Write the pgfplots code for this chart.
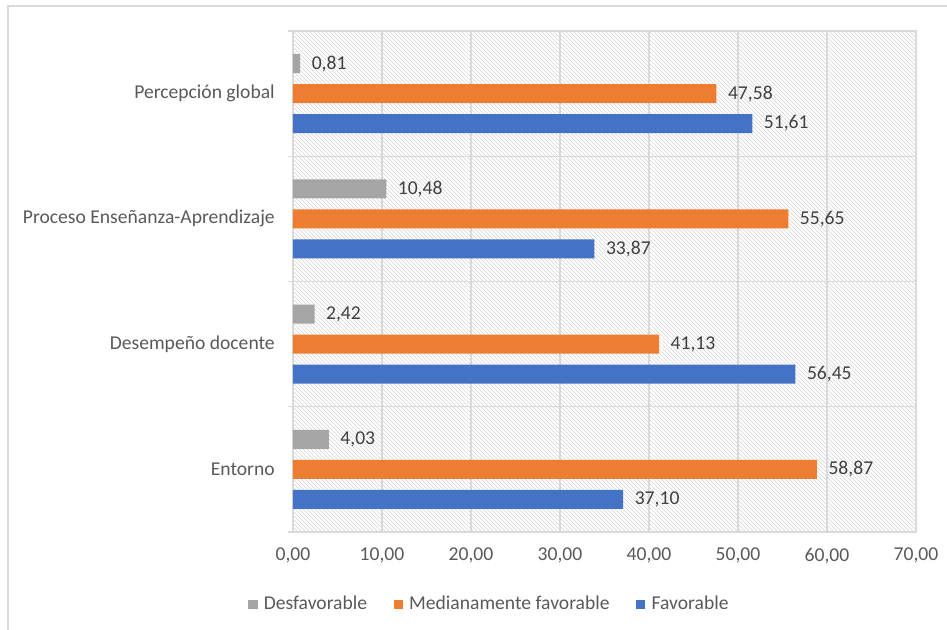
\documentclass[border=0pt]{standalone}
\usepackage{fontspec}
\setmainfont{Carlito}
\usepackage{pgfplots}
\pgfplotsset{compat=1.18}
\usetikzlibrary{patterns}

\definecolor{gridgray}{RGB}{217,217,217}
\definecolor{hatchgray}{RGB}{212,212,212}
\definecolor{txtgray}{RGB}{89,89,89}
\definecolor{lblgray}{RGB}{64,64,64}
\definecolor{cgray}{RGB}{165,165,165}
\definecolor{corange}{RGB}{237,125,49}
\definecolor{cblue}{RGB}{68,114,196}

\begin{document}
\fontsize{14.7}{17}\selectfont
\begin{tikzpicture}
% page frame (947x630 px at 0.75pt per px)
\path[use as bounding box] (0,0) rectangle (710.25pt,472.5pt);
\draw[gridgray, line width=1.1pt] (6pt,0) -- (6pt,468pt) -- (712pt,468pt);

\begin{axis}[
    at={(219.75pt,73.5pt)}, anchor=south west,
    scale only axis,
    width=467.25pt, height=375.75pt,
    xbar, bar width=14.25pt,
    xmin=0, xmax=70,
    ymin=-0.5, ymax=3.5,
    xtick={0,10,...,70},
    ytick={0,1,2,3},
    yticklabels={Entorno,Desempeño docente,Proceso Enseñanza-Aprendizaje,Percepción global},
    minor ytick={-0.5,0.5,1.5,2.5,3.5},
    xmajorgrids=true, yminorgrids=true,
    grid style={draw=gridgray, line width=1pt},
    minor grid style={draw=gridgray, line width=1pt},
    axis line style={draw=gridgray, line width=1pt},
    major tick length=0pt, minor tick length=4pt,
    tick align=outside, ytick pos=left, xtick pos=bottom,
    minor y tick style={draw=gridgray, line width=1pt},
    axis background/.style={pattern=north west lines, pattern color=hatchgray},
    /pgf/number format/assume math mode=true,
    /pgf/number format/.cd, fixed, fixed zerofill, precision=2, use comma, 1000 sep={},
    /pgfplots/.cd,
    tick label style={text=txtgray, font=\fontsize{14.7}{17}\selectfont},
    xticklabel style={anchor=north, inner sep=0pt, yshift=-12pt},
    yticklabel style={anchor=east, inner sep=0pt, xshift=-13.5pt},
    nodes near coords={\pgfmathprintnumber[fixed,fixed zerofill,precision=2,use comma]{\pgfplotspointmeta}},
    nodes near coords style={anchor=west, inner sep=0pt, xshift=8.5pt, text=lblgray, font=\fontsize{14.7}{17}\selectfont},
    legend columns=3,
    legend style={draw=none, fill=none, at={(0.316,-0.144)}, anchor=center,
        text=txtgray, font=\fontsize{14.7}{17}\selectfont,
        /tikz/every even column/.append style={column sep=18pt}},
    legend image code/.code={\fill[#1] (0pt,-3.4pt) rectangle (6.8pt,3.4pt); \path (9.5pt,0pt);},
]
\addplot[fill=cgray, draw=none, bar shift=22.5pt] coordinates {
    (4.03,0) (2.42,1) (10.48,2) (0.81,3)
};
\addlegendentry{Desfavorable}
\addplot[fill=corange, draw=none, bar shift=0pt] coordinates {
    (58.87,0) (41.13,1) (55.65,2) (47.58,3)
};
\addlegendentry{Medianamente favorable}
\addplot[fill=cblue, draw=none, bar shift=-22.5pt] coordinates {
    (37.10,0) (56.45,1) (33.87,2) (51.61,3)
};
\addlegendentry{Favorable}
\end{axis}
\end{tikzpicture}
\end{document}
